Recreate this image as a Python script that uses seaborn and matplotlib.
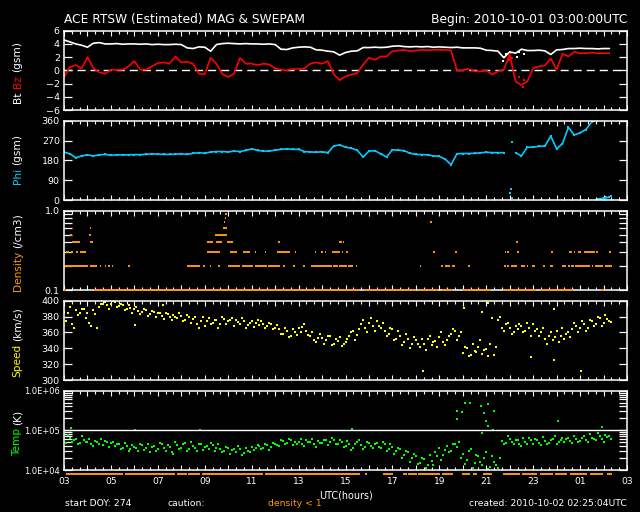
import numpy as np
import pandas as pd
import matplotlib
matplotlib.use('Agg')
import matplotlib.pyplot as plt
import matplotlib.transforms as mtransforms
from matplotlib.ticker import NullFormatter, FixedLocator
import seaborn as sns

# ---------------- data (hours after 2010-10-01 03:00 UTC) ----------------
hour_labels = ['03', '05', '07', '09', '11', '13', '15', '17', '19', '21', '23', '01', '03']

# 15-minute samples
bt = [4.6, 4.3, 4.0, 3.8, 3.5, 4.1, 4.2, 4.0, 4.0, 4.05, 3.95, 4.0, 4.0, 3.95, 4.0, 3.9,
      3.95, 3.9, 3.9, 3.95, 3.9, 3.4, 3.3, 3.55, 3.5, 2.9, 3.9, 4.05, 4.1, 4.05, 4.0, 4.05,
      4.0, 4.0, 3.95, 4.0, 3.9, 3.2, 3.15, 3.4, 3.5, 3.55, 3.5, 3.1, 3.05, 2.9, 2.8, 2.3,
      2.7, 2.9, 2.95, 3.45, 3.45, 3.5, 3.45, 3.5, 3.65, 3.7, 3.6, 3.55, 3.6, 3.55, 3.6, 3.5,
      3.55, 3.5, 3.45, 3.5, 3.4, 3.4, 3.4, 3.35, 3.05, 3.0, 2.9, 1.9, 2.8, 2.6, 3.2, 3.0,
      3.0, 3.05, 2.95, 2.4, 3.1, 3.15, 3.3, 3.3, 3.35, 3.3, 3.3, 3.25, 3.3, 3.3]
bz = [-1.0, 0.5, 0.8, 0.3, 2.0, 0.3, -0.3, -0.5, 0.1, 0.05, 0.1, 0.6, 1.4, 0.1, 0.1, 0.6,
      1.1, 1.2, 1.0, 2.1, 1.2, 1.3, 1.0, -0.5, -0.6, 1.9, 1.0, -0.6, -1.0, -0.5, 1.9, 1.0,
      1.0, 0.8, 1.0, 0.9, 0.3, 0.1, 0.0, 0.2, 0.2, 0.3, 1.0, 1.2, 1.0, 1.4, -0.6, -1.5,
      -0.9, -0.65, -0.4, 0.85, 1.9, 1.6, 2.1, 2.1, 2.9, 3.0, 3.1, 2.9, 3.0, 3.1, 3.05, 3.1,
      3.1, 3.1, 3.0, 0.0, 0.0, 0.25, -0.15, -0.15, 0.0, -0.65, -0.15, 0.1, 2.4, -1.7, -2.2, -1.7,
      0.35, 0.6, 0.75, 1.8, 0.1, 2.5, 2.1, 2.8, 2.6, 2.6, 2.7, 2.6, 2.6, 2.6]
phi = [217, 210, 192, 200, 205, 200, 205, 207, 203, 205, 205, 205, 206, 206, 207, 210,
       208, 207, 207, 208, 210, 207, 212, 215, 212, 218, 220, 220, 218, 222, 220, 225,
       232, 225, 222, 222, 226, 230, 232, 230, 230, 220, 218, 217, 219, 215, 245, 250,
       240, 235, 226, 195, 222, 224, 210, 195, 228, 226, 224, 212, 207, 206, 205, 200,
       198, 185, 160, 210, 211, 211, 212, 214, 217, 215, 215, 215, 30, 215, 200, 240,
       240, 244, 245, 290, 232, 256, 330, 295, 305, 320, 355, 5, 8, 12]

bt_extra_t = [18.7, 18.75, 18.85, 19.3, 19.4, 19.6]
bt_extra_v = [1.4, 2.0, 2.4, 2.0, 2.8, 2.5]
bz_extra_t = [18.95, 19.05, 19.1, 19.4, 19.55, 19.6]
bz_extra_v = [1.5, 2.6, 1.8, -1.0, -2.5, -1.5]
phi_extra_t = [19.05, 19.1, 19.08, 22.6, 22.7, 22.9, 23.1, 23.3]
phi_extra_v = [50, 10, 265, 360, 358, 3, 15, 20]

# density: level, start hour, end hour
dens_level = ([0.2] * 43 + [0.3] * 29 + [0.4] * 10 + [0.5] * 3 + [0.6] * 2 + [0.71] * 2 + [0.8, 0.9]
              + [0.1] * 9)
dens_start = [0.04, 1.11, 1.53, 1.75, 1.89, 2.03, 2.74, 5.23, 5.94, 6.22, 6.58, 7.0, 7.57, 8.14, 8.7,
              9.35, 9.77, 10.2, 10.55, 11.45, 11.73, 12.12, 12.44, 15.17, 16.09, 16.24, 16.53, 17.23,
              18.75, 18.89, 19.05, 19.5, 19.72, 19.93, 20.43, 20.71, 21.24, 21.5, 21.63, 21.78, 22.49,
              22.63, 23.08,
              0.1, 0.3, 0.5, 0.7, 6.08, 7.07, 7.64, 8.14, 8.57, 9.06, 9.84, 10.7, 10.95, 11.12, 11.43,
              11.83, 12.02, 15.74, 16.68, 18.79, 18.89, 19.32, 20.77, 21.53, 21.73, 21.92, 22.17, 22.67,
              23.24,
              0.33, 1.11, 6.08, 6.5, 6.93, 9.13, 11.73, 11.8, 11.88, 19.28,
              0.26, 1.08, 6.43,
              1.11, 6.76,
              6.82, 15.61,
              6.85, 6.88,
              0.0, 1.3, 12.8, 15.1, 16.1, 17.0, 18.7, 20.3, 22.9]
dens_end = [1.04, 1.39, 1.53, 1.75, 1.89, 2.03, 2.74, 5.8, 5.94, 6.22, 6.58, 7.5, 8.07, 8.64, 9.2,
            9.35, 9.77, 10.2, 11.41, 11.69, 12.05, 12.33, 12.5, 15.17, 16.09, 16.45, 16.66, 17.23,
            18.86, 18.98, 19.29, 19.64, 19.79, 20.07, 20.43, 20.85, 21.38, 21.56, 21.73, 22.41, 22.49,
            22.98, 23.38,
            0.2, 0.4, 0.6, 0.95, 6.65, 7.36, 7.93, 8.14, 8.57, 9.63, 9.84, 10.7, 11.02, 11.12, 11.76,
            11.83, 12.09, 15.74, 16.68, 18.79, 18.89, 19.32, 20.77, 21.65, 21.73, 22.02, 22.63, 22.77,
            23.24,
            0.68, 1.25, 6.36, 6.72, 7.22, 9.13, 11.73, 11.8, 11.95, 19.28,
            0.26, 1.16, 6.93,
            1.11, 6.93,
            6.82, 15.61,
            6.85, 6.88,
            0.1, 12.6, 15.0, 16.0, 16.6, 18.2, 20.1, 21.7, 23.0]

# density < 1 caution intervals (hours)
caution_start = [0.07, 2.6, 4.8, 5.3, 5.87, 8.57, 12.83, 13.6, 14.46, 14.68, 15.1, 16.1, 16.95,
                 17.45, 17.87, 18.73, 19.51, 20.29, 20.93, 21.57, 22.42, 23.13]
caution_end = [2.53, 4.73, 5.23, 5.8, 8.5, 12.62, 12.9, 14.04, 14.61, 15.03, 16.03, 16.6, 17.3,
               17.6, 18.23, 19.44, 20.15, 20.86, 21.43, 22.28, 22.99, 23.35]

# 10-minute samples (first set on the 10-min grid, second set 5 min later)
speed = [386, 384, 370, 388, 385, 390, 384, 368, 383, 392,
         396, 394, 396, 398, 393, 395, 390, 391, 389, 387,
         386, 388, 383, 386, 384, 381, 385, 379, 382, 378,
         381, 376, 380, 377, 370, 375, 368, 378, 372, 376,
         370, 377, 374, 378, 376, 371, 374, 369, 374, 372,
         369, 371, 368, 370, 365, 364, 358, 362, 356, 360,
         365, 367, 362, 355, 351, 353, 353, 350, 356, 346,
         349, 343, 348, 355, 362, 357, 370, 366, 372, 368,
         375, 366, 362, 358, 364, 352, 356, 348, 352, 345,
         350, 342, 345, 352, 344, 349, 354, 348, 350, 358,
         362, 356, 334, 340, 331, 337, 342, 333, 339, 346,
         332, 376, 366, 370, 366, 360, 364, 368, 362, 366,
         370, 364, 361, 352, 356, 350, 362, 356, 352, 360,
         364, 368, 366, 370, 365, 374, 371, 378, 372, 377,
         373]
speed2 = [375, 392, 366, 382, 390, 378, 372, 388, 366, 396,
          398, 390, 399, 392, 396, 388, 394, 385, 392, 383,
          390, 381, 387, 380, 385, 377, 383, 376, 380, 384,
          374, 382, 372, 379, 366, 380, 374, 370, 376, 366,
          380, 371, 376, 368, 373, 378, 366, 372, 367, 376,
          374, 365, 372, 364, 369, 358, 366, 354, 364, 357,
          360, 370, 357, 360, 348, 358, 346, 355, 344, 352,
          354, 345, 352, 360, 350, 364, 376, 360, 378, 362,
          368, 372, 356, 366, 350, 362, 344, 358, 340, 354,
          346, 352, 338, 356, 348, 342, 360, 344, 356, 364,
          350, 360, 342, 330, 346, 335, 350, 338, 330, 378,
          342, 380, 362, 372, 358, 368, 370, 360, 372, 356,
          362, 356, 366, 346, 360, 354, 348, 366, 358, 354,
          372, 360, 374, 362, 376, 368, 380, 368, 382, 375]
speed_extra_t = [3.03, 15.3, 17.06, 17.83, 18.08, 19.9, 20.9, 20.9, 22.05, 1.7, 4.2]
speed_extra_v = [369, 311, 391, 386, 397, 329, 389, 325, 311, 399, 395]

temp = [60000, 75000, 52000, 62000, 48000, 57000, 50000, 44000, 55000, 46000,
        42000, 52000, 47000, 40000, 44000, 36000, 41000, 33000, 38000, 30000,
        42000, 35000, 28000, 40000, 33000, 45000, 30000, 38000, 26000, 42000,
        36000, 48000, 34000, 40000, 30000, 44000, 38000, 34000, 42000, 36000,
        34000, 30000, 36000, 32000, 28000, 33000, 27000, 30000, 38000, 35000,
        40000, 36000, 42000, 38000, 44000, 40000, 54000, 48000, 58000, 50000,
        52000, 46000, 56000, 50000, 44000, 54000, 48000, 58000, 50000, 56000,
        44000, 50000, 40000, 46000, 36000, 50000, 42000, 38000, 47000, 35000,
        48000, 36000, 44000, 33000, 38000, 30000, 34000, 24000, 28000, 20000,
        22000, 15000, 19000, 13000, 17000, 28000, 36000, 24000, 40000, 30000,
        46000, 52000, 26000, 18000, 34000, 15000, 22000, 13000, 28000, 12000,
        16000, 11500, 55000, 48000, 62000, 44000, 56000, 40000, 52000, 66000,
        46000, 58000, 42000, 54000, 48000, 62000, 45000, 58000, 50000, 66000,
        47000, 60000, 54000, 70000, 50000, 64000, 56000, 74000, 52000, 68000,
        60000]
temp2 = [48000, 66000, 58000, 45000, 70000, 52000, 60000, 40000, 50000, 62000,
         55000, 38000, 50000, 45000, 34000, 48000, 30000, 42000, 36000, 46000,
         32000, 44000, 38000, 30000, 48000, 36000, 42000, 28000, 50000, 34000,
         44000, 30000, 52000, 36000, 46000, 32000, 40000, 48000, 30000, 44000,
         28000, 38000, 26000, 34000, 40000, 24000, 35000, 28000, 32000, 42000,
         34000, 46000, 32000, 48000, 42000, 56000, 44000, 62000, 42000, 46000,
         60000, 40000, 50000, 62000, 38000, 48000, 56000, 42000, 64000, 46000,
         56000, 38000, 54000, 32000, 44000, 56000, 34000, 50000, 40000, 44000,
         38000, 50000, 30000, 44000, 26000, 36000, 20000, 30000, 16000, 25000,
         14000, 20000, 11000, 24000, 13000, 22000, 18000, 32000, 28000, 44000,
         38000, 20000, 14000, 30000, 11000, 24000, 16000, 20000, 10500, 22000,
         13000, 20000, 44000, 70000, 52000, 58000, 46000, 64000, 44000, 56000,
         62000, 48000, 68000, 44000, 56000, 70000, 52000, 66000, 60000, 55000,
         72000, 52000, 66000, 58000, 80000, 60000, 84000, 62000, 76000, 70000]
temp_extra_t = [0.3, 3.03, 5.8, 12.29, 16.76, 16.77, 16.97, 17.11, 17.3, 17.77, 17.91, 18.08,
                18.32, 18.01, 18.08, 17.83, 18.3, 21.06, 22.95]
temp_extra_v = [115000, 100000, 105000, 108000, 310000, 190000, 290000, 480000, 500000, 400000,
                280000, 460000, 300000, 170000, 130000, 85000, 100000, 170000, 120000]

# ---------------- style ----------------
sns.set_theme(style='dark', rc={
    'figure.facecolor': 'black', 'axes.facecolor': 'black', 'savefig.facecolor': 'black',
    'axes.edgecolor': 'white', 'axes.grid': False, 'text.color': 'white',
    'xtick.color': 'white', 'ytick.color': 'white', 'axes.labelcolor': 'white',
})
plt.rcParams['font.family'] = ['DejaVu Sans']

WHITE, RED, CYAN, ORANGE, YELLOW, GREEN = 'white', '#ff0000', '#00ccff', '#ff9900', '#ffff00', '#00ff00'

W, H = 640, 512
fig = plt.figure(figsize=(6.4, 5.12), dpi=100)
left_px, right_px, ph = 64, 627, 79.3
tops = [30.7, 120.7, 210.7, 300.7, 390.7]
axs = [fig.add_axes([left_px / W, 1 - (t + ph) / H, (right_px - left_px) / W, ph / H]) for t in tops]

t15 = np.arange(len(bt)) * 0.25
t15z = np.arange(len(bz)) * 0.25
t15p = np.arange(len(phi)) * 0.25
t10 = np.arange(len(speed)) / 6.0
t10s2 = np.arange(len(speed2)) / 6.0 + 1 / 12
t10T = np.arange(len(temp)) / 6.0
t10T2 = np.arange(len(temp2)) / 6.0 + 1 / 12

ax0, ax1, ax2, ax3, ax4 = axs
DOT = dict(s=3, marker='s', linewidth=0)

# Bt / Bz
ax0.axhline(0, color=WHITE, lw=1.0, dashes=(5.8, 3.6), zorder=1)
sns.lineplot(x=t15, y=bt, ax=ax0, color=WHITE, lw=1.2, estimator=None, sort=False, zorder=3)
sns.lineplot(x=t15z, y=bz, ax=ax0, color=RED, lw=1.2, estimator=None, sort=False, zorder=2)
sns.scatterplot(x=bt_extra_t, y=bt_extra_v, ax=ax0, color=WHITE, **DOT)
sns.scatterplot(x=bz_extra_t, y=bz_extra_v, ax=ax0, color=RED, **DOT)
ax0.set_ylim(-6, 6)
ax0.set_yticks([-6, -4, -2, 0, 2, 4, 6])

# Phi with breaks at wrap-around jumps
phi_arr = np.array(phi, dtype=float)
seg = np.concatenate([[0], np.cumsum(np.abs(np.diff(phi_arr)) > 120)])
dfp = pd.DataFrame({'t': t15p, 'phi': phi_arr, 'seg': seg})
sns.lineplot(data=dfp, x='t', y='phi', units='seg', estimator=None, sort=False, ax=ax1, color=CYAN, lw=1.2)
sns.scatterplot(data=dfp, x='t', y='phi', ax=ax1, color=CYAN, **DOT)
sns.scatterplot(x=phi_extra_t, y=phi_extra_v, ax=ax1, color=CYAN, **DOT)
ax1.set_ylim(0, 360)
ax1.set_yticks([0, 90, 180, 270, 360])

# Density
ax2.set_yscale('log')
ds = np.array(dens_start)
de = np.maximum(np.array(dens_end), ds + 0.06)
ax2.hlines(dens_level, ds, de, colors=ORANGE, lw=1.4, clip_on=False, zorder=5)
ax2.set_ylim(0.1, 1.0)
ax2.set_yticks([0.1, 1.0])
ax2.set_yticklabels(['0.1', '1.0'])
ax2.yaxis.set_minor_locator(FixedLocator([0.2, 0.3, 0.4, 0.5, 0.6, 0.7, 0.8, 0.9]))
ax2.yaxis.set_minor_formatter(NullFormatter())

# Speed
sns.scatterplot(x=t10, y=speed, ax=ax3, color=YELLOW, **DOT)
sns.scatterplot(x=t10s2, y=speed2, ax=ax3, color=YELLOW, **DOT)
sns.scatterplot(x=speed_extra_t, y=speed_extra_v, ax=ax3, color=YELLOW, **DOT)
ax3.set_ylim(300, 400)
ax3.set_yticks([300, 320, 340, 360, 380, 400])

# Temperature
ax4.set_yscale('log')
ax4.axhline(1e5, color=WHITE, lw=1.0)
sns.scatterplot(x=t10T, y=temp, ax=ax4, color=GREEN, **DOT)
sns.scatterplot(x=t10T2, y=temp2, ax=ax4, color=GREEN, **DOT)
sns.scatterplot(x=temp_extra_t, y=temp_extra_v, ax=ax4, color=GREEN, **DOT)
ax4.set_ylim(1e4, 1e6)
ax4.set_yticks([1e4, 1e5, 1e6])
ax4.set_yticklabels(['1.0E+04', '1.0E+05', '1.0E+06'])
ax4.yaxis.set_minor_locator(FixedLocator([k * 10 ** e for e in (4, 5) for k in range(2, 10)]))
ax4.yaxis.set_minor_formatter(NullFormatter())

# caution marker below temperature panel
trans = mtransforms.blended_transform_factory(ax4.transData, ax4.transAxes)
ax4.hlines([-0.055] * len(caution_start), caution_start, caution_end, colors=ORANGE, lw=1.4,
           transform=trans, clip_on=False)

for i, ax in enumerate(axs):
    ax.set_facecolor('black')
    for sp in ax.spines.values():
        sp.set_color(WHITE)
        sp.set_linewidth(1.1)
    ax.set_xlim(0, 24)
    ax.set_xticks(np.arange(0, 25, 1))
    ax.set_xticks(np.arange(0, 24.01, 1 / 3), minor=True)
    ax.set_xlabel('')
    ax.set_ylabel('')
    if ax.get_legend():
        ax.get_legend().remove()
    ax.tick_params(axis='x', which='major', direction='in', top=True, bottom=True, length=3.5,
                   width=0.8, colors=WHITE, labelsize=6.6, pad=5)
    ax.tick_params(axis='x', which='minor', direction='in', top=True, bottom=True, length=2,
                   width=0.8, colors=WHITE)
    ax.tick_params(axis='y', which='both', direction='in', left=True, right=True, length=5.8,
                   width=0.9, colors=WHITE, labelsize=6.8, pad=3)
    if i < 4:
        ax.set_xticklabels([])
    else:
        ax.set_xticklabels([hour_labels[k // 2] if k % 2 == 0 else '' for k in range(25)])
ax4.tick_params(axis='y', labelsize=6.0)

# texts
fig.text(64 / W, 1 - 19 / H, 'ACE RTSW (Estimated) MAG & SWEPAM', ha='left', va='center', fontsize=8.8)
fig.text(627 / W, 1 - 19 / H, 'Begin: 2010-10-01 03:00:00UTC', ha='right', va='center', fontsize=8.8)
fig.text(346 / W, 1 - 495 / H, 'UTC(hours)', ha='center', va='center', fontsize=6.9)
fig.text(65 / W, 1 - 504 / H, 'start DOY: 274', ha='left', va='center', fontsize=6.7)
fig.text(167 / W, 1 - 504 / H, 'caution:', ha='left', va='center', fontsize=6.7)
fig.text(268 / W, 1 - 504 / H, 'density < 1', ha='left', va='center', fontsize=6.7, color=ORANGE)
fig.text(627 / W, 1 - 504 / H, 'created: 2010-10-02 02:25:04UTC', ha='right', va='center', fontsize=6.7)


def stacked_label(pieces, yc_px, x_px=17.5, fs=7.6):
    objs = [fig.text(x_px / W, 0.5, s, color=c, fontsize=fs, rotation=90, ha='center', va='bottom')
            for s, c in pieces]
    fig.canvas.draw()
    r = fig.canvas.get_renderer()
    hs = [o.get_window_extent(r).height for o in objs]
    gap = fs / 72 * 100 * 0.3
    total = sum(hs) + gap * (len(objs) - 1)
    y = (H - yc_px) - total / 2
    for o, h in zip(objs, hs):
        o.set_y(y / H)
        y += h + gap


stacked_label([('Bt', WHITE), ('Bz', RED), ('(gsm)', WHITE)], 72)
stacked_label([('Phi', CYAN), ('(gsm)', WHITE)], 159)
stacked_label([('Density', ORANGE), ('(/cm3)', WHITE)], 252)
stacked_label([('Speed', YELLOW), ('(km/s)', WHITE)], 342)
stacked_label([('Temp', GREEN), ('(K)', WHITE)], 433)

fig.savefig('out.png', dpi=100, facecolor='black')
